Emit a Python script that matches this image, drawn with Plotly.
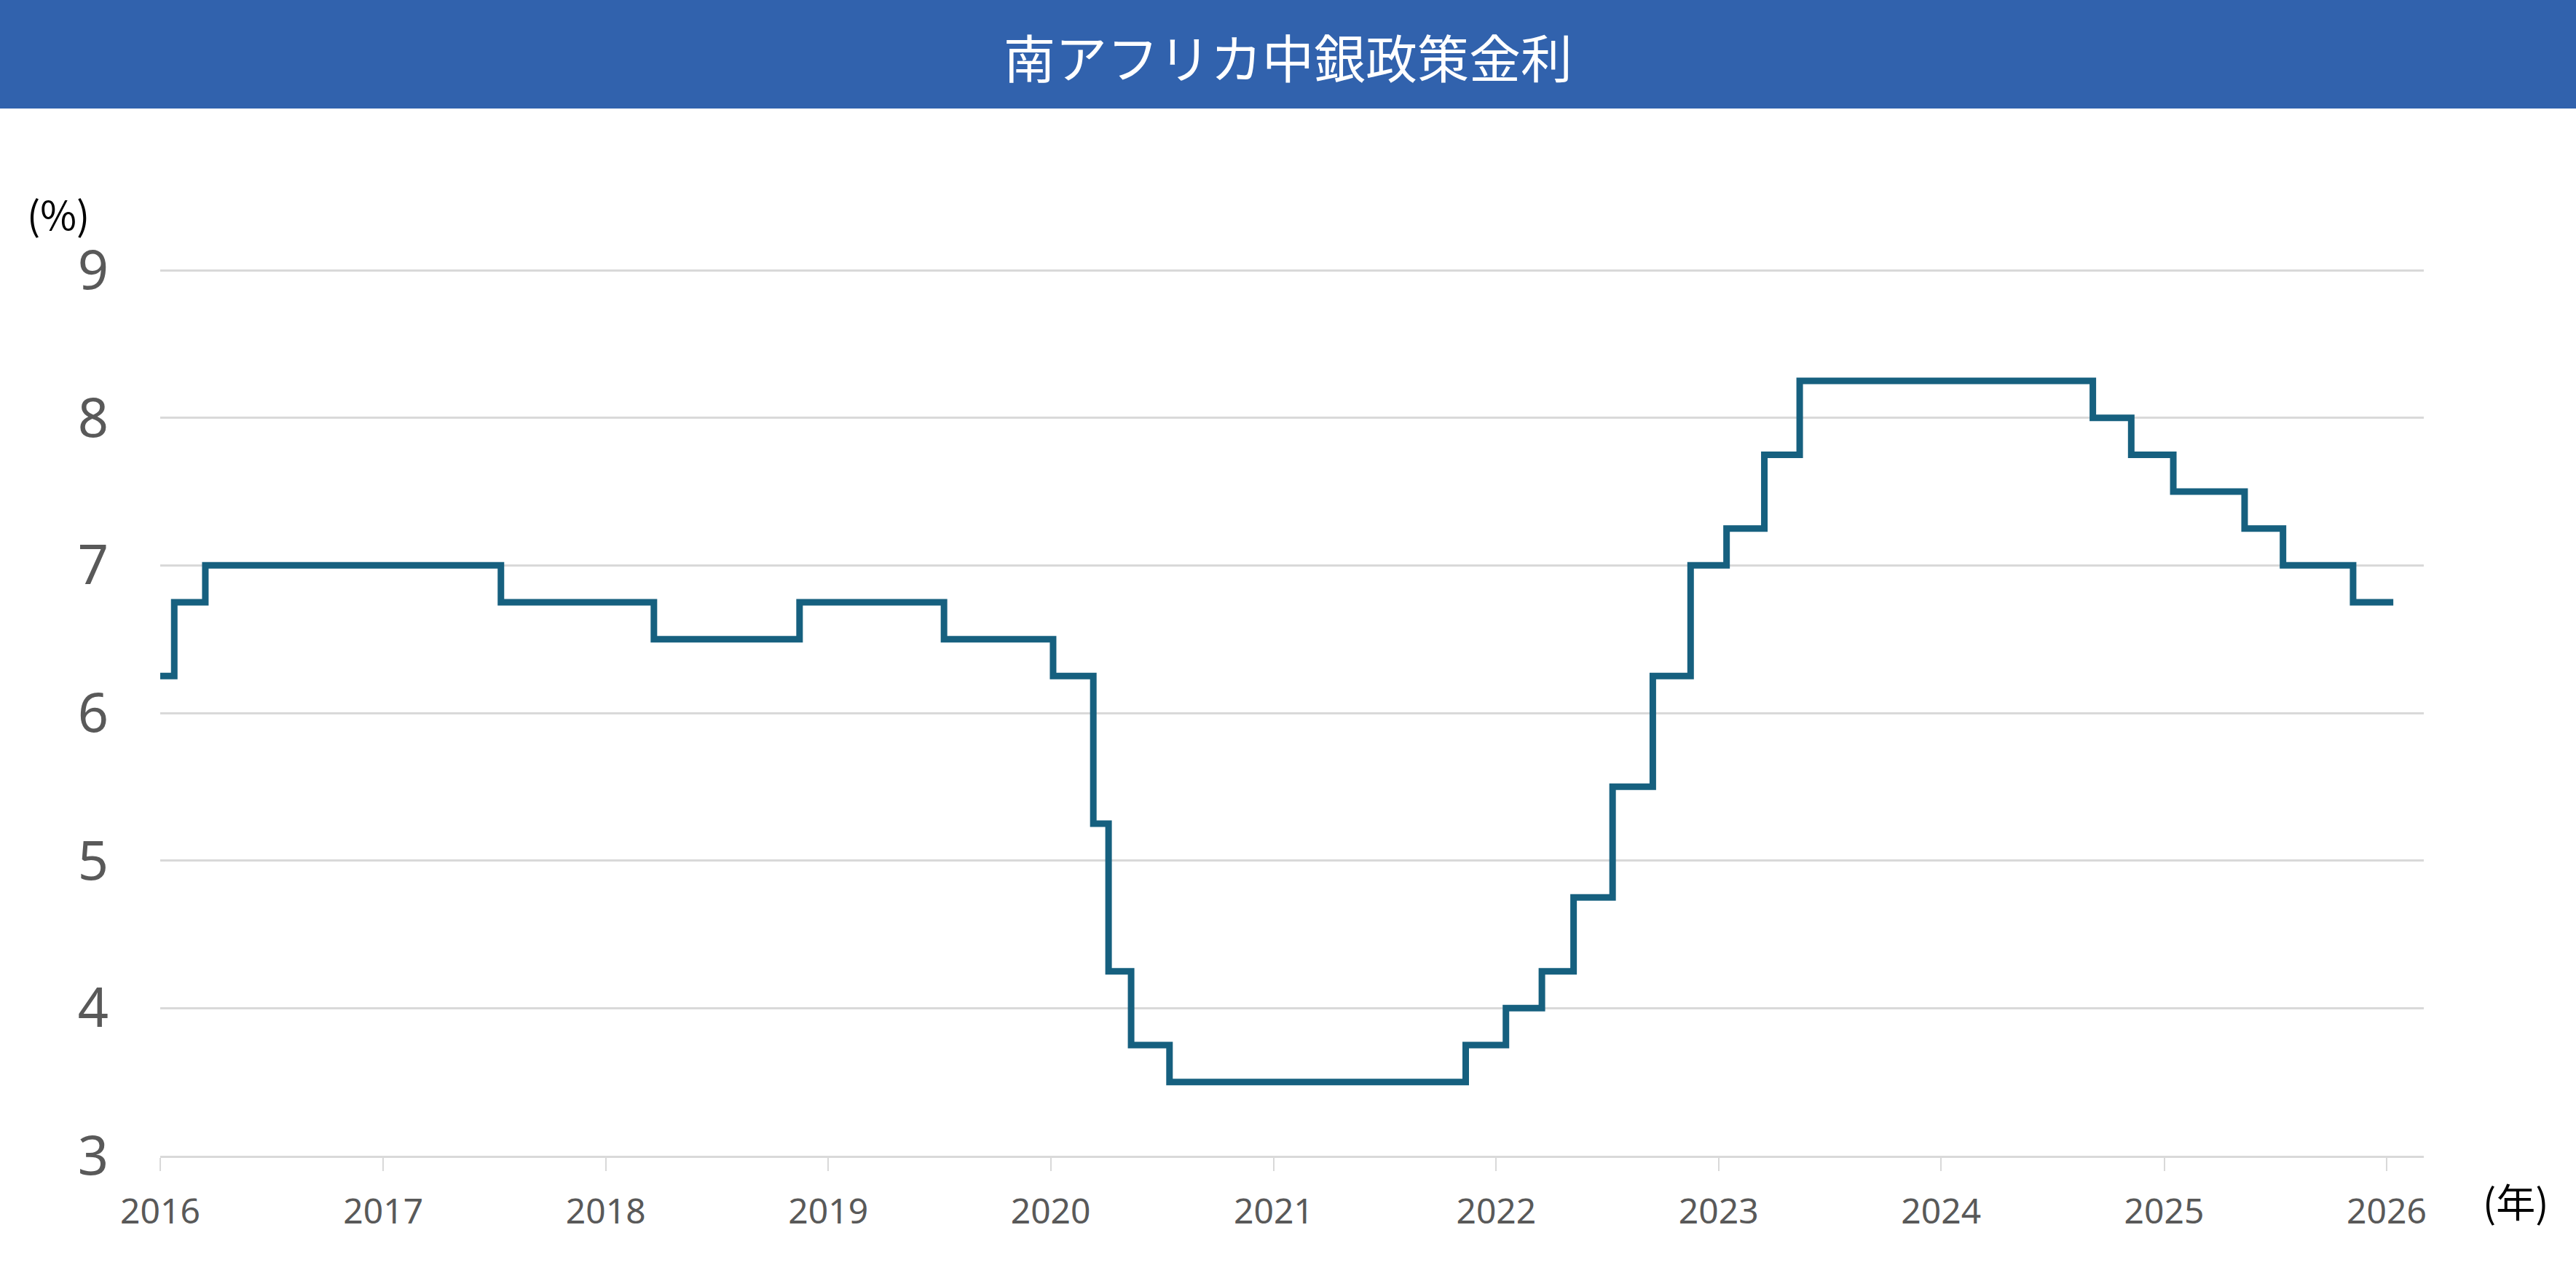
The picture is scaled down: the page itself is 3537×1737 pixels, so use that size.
import plotly.graph_objects as go

# Policy rate step dates and levels (%)
dates = [
    "2016-01-01", "2016-01-24", "2016-03-15", "2017-07-13", "2018-03-21",
    "2018-11-15", "2019-07-10", "2020-01-05", "2020-03-11", "2020-04-05",
    "2020-05-12", "2020-07-14", "2021-11-12", "2022-01-17", "2022-03-17",
    "2022-05-08", "2022-07-11", "2022-09-15", "2022-11-16", "2023-01-14",
    "2023-03-17", "2023-05-14", "2024-09-06", "2024-11-08", "2025-01-16",
    "2025-05-13", "2025-07-15", "2025-11-07", "2026-01-12",
]
rates = [
    6.25, 6.75, 7.00, 6.75, 6.50,
    6.75, 6.50, 6.25, 5.25, 4.25,
    3.75, 3.50, 3.75, 4.00, 4.25,
    4.75, 5.50, 6.25, 7.00, 7.25,
    7.75, 8.25, 8.00, 7.75, 7.50,
    7.25, 7.00, 6.75, 6.75,
]
y_ticks = [3, 4, 5, 6, 7, 8, 9]
title_text = "南アフリカ中銀政策金利"
y_unit = "(%)"
x_unit = "(年)"

W, H = 3537, 1737
ML, MR, MT, MB = 220, 209, 367, 150
PW, PH = W - ML - MR, H - MT - MB

fig = go.Figure()
fig.add_trace(go.Scatter(
    x=dates, y=rates, mode="lines",
    line=dict(color="#16607F", width=9, shape="hv"),
    cliponaxis=False, hoverinfo="x+y",
))

# title bar
fig.add_shape(type="rect", xref="paper", yref="paper",
              x0=-ML / PW - 0.01, x1=1 + MR / PW + 0.01,
              y0=1 + (MT - 149) / PH, y1=1 + MT / PH + 0.01,
              fillcolor="#3162AD", line=dict(width=0), layer="below")
fig.add_annotation(text=title_text, xref="paper", yref="paper",
                   x=(W / 2 - ML) / PW, y=1 + (MT - 76) / PH,
                   xanchor="center", yanchor="middle", showarrow=False,
                   font=dict(family="Noto Sans CJK JP", size=71, color="white"))
fig.add_annotation(text=y_unit, xref="paper", yref="paper",
                   x=(80 - ML) / PW, y=1 + (MT - 292) / PH,
                   xanchor="center", yanchor="middle", showarrow=False,
                   font=dict(family="Noto Sans CJK JP", size=54, color="#000000"))
fig.add_annotation(text=x_unit, xref="paper", yref="paper",
                   x=(3454 - ML) / PW, y=-(1648 - (H - MB)) / PH,
                   xanchor="center", yanchor="middle", showarrow=False,
                   font=dict(family="Noto Sans CJK JP", size=54, color="#000000"))

fig.update_layout(
    width=W, height=H,
    margin=dict(l=ML, r=MR, t=MT, b=MB, pad=0),
    paper_bgcolor="white", plot_bgcolor="white",
    showlegend=False,
    xaxis=dict(
        type="date", range=["2016-01-01", "2026-03-03"],
        dtick="M12", tick0="2016-01-01", tickformat="%Y",
        showgrid=False, zeroline=False,
        showline=True, linecolor="#D9D9D9", linewidth=3,
        ticks="outside", ticklen=18, tickwidth=2, tickcolor="#D9D9D9",
        ticklabelstandoff=14,
        tickfont=dict(family="Noto Sans", size=48, color="#595959"),
    ),
    yaxis=dict(
        range=[3, 9.02], tickvals=y_ticks,
        showgrid=True, gridcolor="#D9D9D9", gridwidth=3,
        zeroline=False, showline=False, ticks="",
        ticklabelstandoff=70,
        tickfont=dict(family="Noto Sans", size=74, color="#595959"),
    ),
)

fig.write_html(
    "out.html",
    config={"displayModeBar": False},
    post_script="document.body.style.margin='0px';document.body.style.padding='0px';",
)
